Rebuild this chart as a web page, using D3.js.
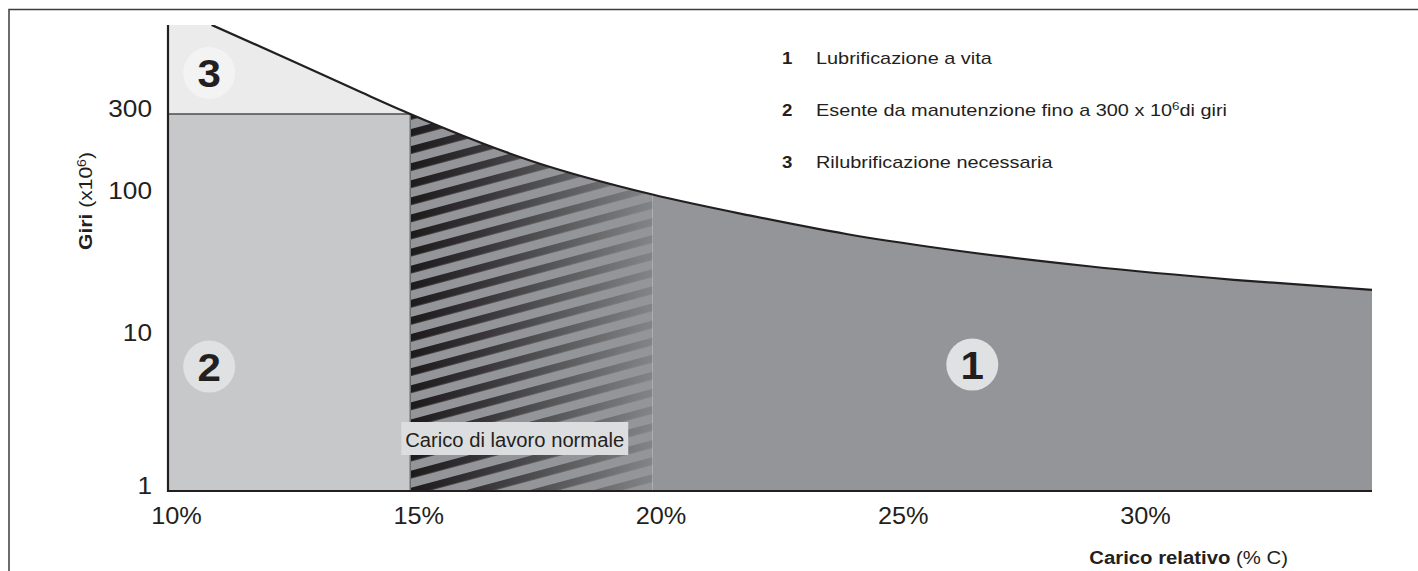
<!DOCTYPE html>
<html><head><meta charset="utf-8">
<script src="https://cdn.jsdelivr.net/npm/d3@7"></script>
<style>
html,body{margin:0;padding:0;background:#fff;}
svg{display:block;}
</style></head><body>
<script>
// ---------- data ----------
const loads = [10.9, 12.6, 14, 15, 17.5, 20, 22, 24, 26, 29, 32, 34.85];
const revs  = [990, 605, 400, 300, 160, 102, 73, 54, 42.5, 32, 25.7, 21.8];
const xTicks = [10, 15, 20, 25, 30];
const xTickLabels = ["10%", "15%", "20%", "25%", "30%"];
const yTicks = [1, 10, 100, 300];
const yTickLabels = ["1", "10", "100", "300"];
const zoneBounds = [10, 15, 20, 34.85];
const maintenanceLimit = 300;
const zoneNumbers = ["1", "2", "3"];
const legendLabels = ["Lubrificazione a vita", "Esente da manutenzione fino a 300 x 10^6di giri", "Rilubrificazione necessaria"];
const normalLoadLabel = "Carico di lavoro normale";
const xTitle = ["Carico relativo", " (% C)"];
const yTitle = ["Giri", " (x10", "6", ")"];

// ---------- layout ----------
const W = 1418, H = 571;
const FONT = "'Liberation Sans', Arial, Helvetica, sans-serif";
const INK = "#231f20";
const yTop = 25;
const zonePos = { "3": [10.85, 520], "2": [10.85, 6.5], "1": [26.6, 6.7] };

const x = d3.scaleLinear().domain([zoneBounds[0], zoneBounds[3]]).range([168, 1372]);
const y = d3.scaleLog().domain(yTicks).range([491, 338, 196, 114]);

const svg = d3.select("body").append("svg").attr("width", W).attr("height", H)
  .attr("font-family", FONT);
const defs = svg.append("defs");

// frame
svg.append("path").attr("d", `M9,${H + 10} V9.5 H${W + 10}`)
  .attr("fill", "none").attr("stroke", "#3c3c3c").attr("stroke-width", 1.5);

const pts = loads.map((l, i) => [x(l), y(revs[i])]);
const line = d3.line().curve(d3.curveMonotoneX);
const area = d3.area().y0(y(1)).curve(d3.curveMonotoneX);

// clip paths
defs.append("clipPath").attr("id", "plotRect").append("rect")
  .attr("x", x(zoneBounds[0])).attr("y", yTop)
  .attr("width", x(zoneBounds[3]) - x(zoneBounds[0])).attr("height", y(1) - yTop);
const cu = defs.append("clipPath").attr("id", "under");
cu.append("path").attr("d", area(pts));
cu.append("rect").attr("x", x(zoneBounds[0])).attr("y", 0)
  .attr("width", x(loads[0]) - x(zoneBounds[0]) + 0.5).attr("height", y(1));

// stripe pattern + gradient
const pat = defs.append("pattern").attr("id", "stripes").attr("patternUnits", "userSpaceOnUse")
  .attr("width", 60).attr("height", 16.5).attr("patternTransform", "rotate(-15)");
pat.append("rect").attr("x", 0).attr("y", 0).attr("width", 60).attr("height", 7.5).attr("fill", "#fff");
const hx0 = x(zoneBounds[1]), hx1 = x(zoneBounds[2]);
defs.append("mask").attr("id", "stripeMask").append("rect")
  .attr("x", hx0).attr("y", 0).attr("width", hx1 - hx0).attr("height", y(1)).attr("fill", "url(#stripes)");
const grad = defs.append("linearGradient").attr("id", "stripeGrad").attr("gradientUnits", "userSpaceOnUse")
  .attr("x1", hx0).attr("x2", hx1).attr("y1", 0).attr("y2", 0);
grad.append("stop").attr("offset", 0).attr("stop-color", "#1c1a1b");
grad.append("stop").attr("offset", 0.3).attr("stop-color", "#373537");
grad.append("stop").attr("offset", 1).attr("stop-color", "#838487");

const gOuter = svg.append("g").attr("clip-path", "url(#plotRect)");
const gPlot = gOuter.append("g").attr("clip-path", "url(#under)");

// zone 3 (above 300, left of 15%)
gPlot.append("rect").attr("x", x(zoneBounds[0])).attr("y", 0)
  .attr("width", hx0 - x(zoneBounds[0])).attr("height", y(maintenanceLimit))
  .attr("fill", "#ebebec");
// zone 2
gPlot.append("rect").attr("x", x(zoneBounds[0])).attr("y", y(maintenanceLimit))
  .attr("width", hx0 - x(zoneBounds[0])).attr("height", y(1) - y(maintenanceLimit))
  .attr("fill", "#c7c8ca");
// hatched zone
gPlot.append("rect").attr("x", hx0).attr("y", 0).attr("width", hx1 - hx0).attr("height", y(1))
  .attr("fill", "#939598");
gPlot.append("rect").attr("x", hx0).attr("y", 0).attr("width", hx1 - hx0).attr("height", y(1))
  .attr("fill", "url(#stripeGrad)").attr("mask", "url(#stripeMask)");
// zone 1
gPlot.append("rect").attr("x", hx1).attr("y", 0).attr("width", x(zoneBounds[3]) - hx1).attr("height", y(1))
  .attr("fill", "#939598");
// separators
gPlot.append("line").attr("x1", x(zoneBounds[0])).attr("x2", hx0)
  .attr("y1", y(maintenanceLimit)).attr("y2", y(maintenanceLimit))
  .attr("stroke", "#4d4d4f").attr("stroke-width", 1.5);
gPlot.append("line").attr("x1", hx0).attr("x2", hx0)
  .attr("y1", y(maintenanceLimit)).attr("y2", y(1))
  .attr("stroke", "#6d6e70").attr("stroke-width", 1.5);

// curve
gOuter.append("path").attr("d", line(pts)).attr("fill", "none")
  .attr("stroke", INK).attr("stroke-width", 2.2);

// axes lines
svg.append("line").attr("x1", x(zoneBounds[0])).attr("x2", x(zoneBounds[0]))
  .attr("y1", yTop).attr("y2", y(1) + 1).attr("stroke", INK).attr("stroke-width", 2.2);
svg.append("line").attr("x1", x(zoneBounds[0]) - 1).attr("x2", x(zoneBounds[3]))
  .attr("y1", y(1)).attr("y2", y(1)).attr("stroke", INK).attr("stroke-width", 2.2);

// tick labels via d3 axes
const yAxis = svg.append("g").attr("transform", `translate(${x(zoneBounds[0])},0)`)
  .call(d3.axisLeft(y).tickValues(yTicks).tickSize(0).tickFormat((d, i) => yTickLabels[i]));
yAxis.select(".domain").remove();
yAxis.attr("font-family", FONT).attr("font-size", 23);
yAxis.selectAll("text").attr("x", null).attr("dy", null).attr("fill", INK)
  .attr("transform", "translate(-16,2) scale(1.14,1)");

const xAxis = svg.append("g").attr("transform", `translate(0,${y(1)})`)
  .call(d3.axisBottom(x).tickValues(xTicks).tickSize(0).tickFormat((d, i) => xTickLabels[i]));
xAxis.select(".domain").remove();
xAxis.attr("font-family", FONT).attr("font-size", 23);
xAxis.selectAll("text").attr("y", null).attr("dy", null).attr("fill", INK)
  .attr("transform", "translate(8,33) scale(1.1,1)");

// helper for stretched text
function stext(px, py, opts) {
  const g = svg.append("g").attr("transform",
    `translate(${px},${py}) rotate(${opts.rotate || 0}) scale(${opts.sx || 1.2},1)`);
  const t = g.append("text").attr("fill", INK).attr("font-size", opts.size)
    .attr("text-anchor", opts.anchor || "start");
  if (opts.weight) t.attr("font-weight", opts.weight);
  return t;
}

// "Carico di lavoro normale" box
const boxX = x(zoneBounds[1]) - 9, boxY = 422;
svg.append("rect").attr("x", boxX).attr("y", boxY).attr("width", 227).attr("height", 33).attr("fill", "#dcddde");
stext(boxX + 4, boxY + 25, { size: 20, sx: 1.01 }).text(normalLoadLabel);

// zone number circles
zoneNumbers.forEach(n => {
  const [lx, ly] = zonePos[n];
  const cx = x(lx), cy = y(ly);
  svg.append("circle").attr("cx", cx).attr("cy", cy).attr("r", 26)
    .attr("fill", n === "3" ? "#f3f3f3" : "#e0e1e2");
  stext(cx, cy + 14, { size: 39, sx: 1.08, anchor: "middle", weight: "bold" }).text(n);
});

// legend
legendLabels.forEach((lab, i) => {
  const by = 64 + i * 52;
  stext(782, by, { size: 17, sx: 1.1, weight: "bold" }).text(zoneNumbers[i]);
  const t = stext(816, by, { size: 17, sx: 1.17 });
  const parts = lab.split(/\^(\d)/);
  parts.forEach((p, j) => {
    if (j % 2 === 1) t.append("tspan").attr("font-size", 11.5).attr("dy", -6.5).text(p);
    else t.append("tspan").attr("dy", j > 0 ? 6.5 : 0).text(p);
  });
});

// y title
{
  const t = stext(92, 201, { size: 18, sx: 1.17, rotate: -90, anchor: "middle" });
  t.append("tspan").attr("font-weight", "bold").text(yTitle[0]);
  t.append("tspan").text(yTitle[1]);
  t.append("tspan").attr("font-size", 12).attr("dy", -6.5).text(yTitle[2]);
  t.append("tspan").attr("dy", 6.5).text(yTitle[3]);
}
// x title
{
  const t = stext(1288, 564, { size: 18, sx: 1.13, anchor: "end" });
  t.append("tspan").attr("font-weight", "bold").text(xTitle[0]);
  t.append("tspan").text(xTitle[1]);
}
</script>
</body></html>
